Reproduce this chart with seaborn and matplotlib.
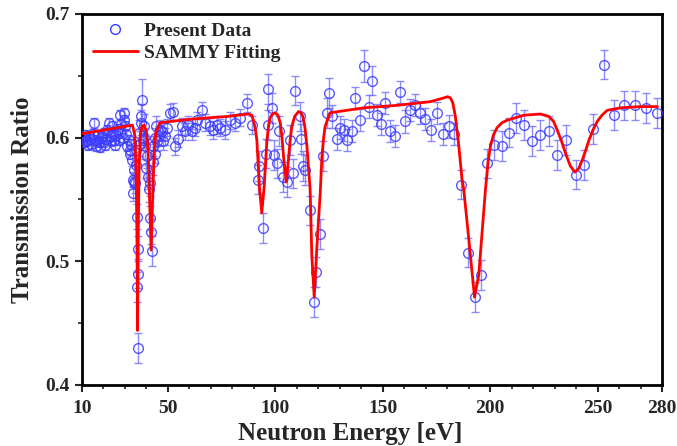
import matplotlib
matplotlib.use('Agg')
import matplotlib.pyplot as plt
from matplotlib.lines import Line2D
from matplotlib.ticker import MultipleLocator, FixedLocator
import seaborn as sns
import pandas as pd

# measured transmission points (energy in eV, ratio, error)
energy = [10.5, 11.0, 11.5, 12.0, 12.3, 12.8, 13.3, 13.9, 14.4, 15.0,
          15.4, 15.9, 16.4, 16.9, 17.4, 17.9, 18.4, 18.8, 19.3, 19.8,
          20.4, 20.9, 21.4, 21.9, 22.4, 22.9, 23.4, 24.0, 24.5, 25.0,
          25.5, 26.0, 26.6, 27.1, 27.5, 27.9, 28.4, 28.9, 29.4, 29.8,
          30.2, 30.7, 31.2, 31.8, 32.2, 32.5, 32.9, 33.3, 33.6, 33.9,
          34.1, 34.4, 34.8, 35.1, 35.4, 35.6, 35.8, 35.9, 36.0, 36.3,
          36.6, 37.0, 37.3, 37.6, 38.0, 38.4, 38.7, 39.1, 39.5, 39.9,
          40.3, 40.7, 41.1, 41.5, 41.9, 42.2, 42.5, 42.9, 43.3, 43.8,
          44.2, 44.6, 45.1, 45.7, 46.3, 47.1, 47.9, 48.7, 49.5, 51.0,
          52.3, 53.3, 54.9, 56.5, 58.0, 59.5, 61.1, 62.7, 63.4, 65.8,
          67.3, 69.6, 71.2, 72.8, 74.3, 76.6, 79.0, 81.3, 83.6, 86.7,
          89.1, 91.9, 92.6, 94.2, 95.7, 96.4, 96.8, 98.4, 99.6, 100.7,
          101.9, 103.8, 105.4, 106.9, 108.2, 109.3, 111.3, 112.1, 113.1, 113.9,
          116.2, 117.8, 119.0, 120.6, 122.2, 124.0, 124.8, 126.4, 128.7, 130.2,
          131.8, 133.3, 135.7, 137.2, 139.2, 141.1, 143.4, 145.0, 147.3, 149.2,
          151.2, 153.5, 155.9, 157.9, 160.5, 162.8, 165.2, 167.2, 169.8, 172.5,
          175.3, 178.1, 180.7, 183.3, 186.6, 189.5, 192.7, 195.8, 198.6, 201.7,
          205.6, 208.7, 212.1, 215.6, 219.5, 223.1, 227.3, 231.2, 235.4, 239.7,
          243.6, 248.0, 252.9, 257.6, 262.2, 267.2, 272.4, 277.5]
ratio = [0.600, 0.596, 0.602, 0.597, 0.598, 0.594, 0.601, 0.599, 0.595, 0.603,
         0.612, 0.598, 0.593, 0.597, 0.602, 0.596, 0.592, 0.600, 0.601, 0.596,
         0.604, 0.594, 0.599, 0.606, 0.612, 0.601, 0.597, 0.609, 0.603, 0.598,
         0.594, 0.602, 0.607, 0.598, 0.604, 0.618, 0.611, 0.600, 0.620, 0.614,
         0.609, 0.603, 0.593, 0.598, 0.590, 0.587, 0.595, 0.582, 0.566, 0.555,
         0.574, 0.564, 0.563, 0.590, 0.578, 0.536, 0.479, 0.430, 0.490, 0.510,
         0.604, 0.595, 0.612, 0.617, 0.630, 0.598, 0.609, 0.600, 0.593, 0.575,
         0.585, 0.568, 0.558, 0.563, 0.535, 0.524, 0.508, 0.580, 0.593, 0.587,
         0.600, 0.609, 0.597, 0.601, 0.606, 0.605, 0.597, 0.601, 0.608, 0.620,
         0.621, 0.593, 0.599, 0.609, 0.605, 0.610, 0.605, 0.608, 0.614, 0.622,
         0.612, 0.609, 0.606, 0.610, 0.608, 0.606, 0.614, 0.612, 0.616, 0.628,
         0.610, 0.566, 0.577, 0.527, 0.587, 0.610, 0.639, 0.624, 0.586, 0.579,
         0.605, 0.568, 0.564, 0.598, 0.571, 0.638, 0.617, 0.599, 0.577, 0.574,
         0.541, 0.467, 0.491, 0.522, 0.585, 0.620, 0.636, 0.617, 0.599, 0.608,
         0.606, 0.598, 0.605, 0.632, 0.614, 0.658, 0.625, 0.646, 0.618, 0.611,
         0.628, 0.605, 0.601, 0.637, 0.613, 0.622, 0.626, 0.620, 0.615, 0.606,
         0.620, 0.603, 0.609, 0.603, 0.562, 0.507, 0.471, 0.489, 0.579, 0.594,
         0.593, 0.604, 0.616, 0.610, 0.597, 0.602, 0.605, 0.586, 0.598, 0.570,
         0.578, 0.607, 0.659, 0.618, 0.626, 0.626, 0.624, 0.620]
error = [0.004, 0.004, 0.004, 0.004, 0.004, 0.004, 0.004, 0.004, 0.004, 0.004,
         0.004, 0.004, 0.004, 0.004, 0.004, 0.004, 0.004, 0.004, 0.004, 0.004,
         0.004, 0.004, 0.004, 0.004, 0.004, 0.004, 0.004, 0.004, 0.004, 0.004,
         0.004, 0.004, 0.004, 0.004, 0.004, 0.004, 0.004, 0.004, 0.004, 0.004,
         0.004, 0.004, 0.004, 0.004, 0.004, 0.004, 0.004, 0.005, 0.006, 0.006,
         0.006, 0.006, 0.008, 0.008, 0.010, 0.010, 0.012, 0.012, 0.012, 0.010,
         0.010, 0.010, 0.010, 0.010, 0.017, 0.008, 0.010, 0.008, 0.010, 0.008,
         0.010, 0.010, 0.010, 0.010, 0.010, 0.010, 0.012, 0.010, 0.008, 0.008,
         0.008, 0.008, 0.008, 0.008, 0.008, 0.007, 0.007, 0.007, 0.007, 0.007,
         0.007, 0.007, 0.007, 0.007, 0.007, 0.007, 0.007, 0.007, 0.007, 0.007,
         0.007, 0.007, 0.007, 0.007, 0.007, 0.007, 0.007, 0.007, 0.007, 0.007,
         0.007, 0.012, 0.012, 0.012, 0.012, 0.012, 0.012, 0.012, 0.012, 0.012,
         0.012, 0.012, 0.012, 0.012, 0.012, 0.012, 0.012, 0.012, 0.012, 0.012,
         0.012, 0.012, 0.012, 0.012, 0.012, 0.012, 0.012, 0.009, 0.009, 0.009,
         0.009, 0.009, 0.009, 0.009, 0.009, 0.013, 0.009, 0.012, 0.009, 0.009,
         0.009, 0.009, 0.009, 0.009, 0.009, 0.009, 0.009, 0.009, 0.009, 0.009,
         0.009, 0.009, 0.009, 0.009, 0.012, 0.012, 0.012, 0.012, 0.012, 0.012,
         0.012, 0.012, 0.012, 0.012, 0.012, 0.012, 0.012, 0.012, 0.012, 0.012,
         0.012, 0.012, 0.012, 0.012, 0.012, 0.012, 0.012, 0.012]

# SAMMY fit curve
fit_energy = [10.0, 20.0, 30.0, 33.5, 34.6, 35.2, 35.6, 35.9, 36.2, 36.6,
              37.2, 37.9, 38.9, 40.0, 40.8, 41.5, 42.2, 42.9, 43.6, 44.4,
              46.3, 61.9, 77.4, 87.5, 89.0, 89.8, 90.7, 91.4, 92.6, 93.7,
              94.8, 96.1, 96.9, 97.6, 98.7, 99.9, 101.2, 102.3, 103.1, 103.8,
              105.1, 106.1, 106.9, 107.7, 109.0, 110.8, 112.0, 112.8, 113.8, 114.7,
              116.2, 117.0, 118.1, 119.3, 120.1, 120.9, 121.7, 122.5, 123.2, 124.8,
              125.6, 141.1, 156.6, 172.2, 178.4, 180.2, 181.5, 182.6, 183.8, 185.4,
              186.9, 187.7, 190.2, 192.7, 194.7, 196.3, 197.8, 199.0, 200.1, 201.5,
              203.2, 205.5, 207.9, 215.6, 223.4, 227.3, 229.5, 231.2, 233.2, 235.1,
              237.3, 239.4, 241.2, 242.9, 244.5, 246.0, 247.8, 249.8, 252.0, 254.5,
              260.7, 270.0, 277.8]
fit_ratio = [0.603, 0.606, 0.609, 0.610, 0.602, 0.575, 0.520, 0.444, 0.520, 0.575,
             0.602, 0.609, 0.610, 0.605, 0.588, 0.550, 0.509, 0.550, 0.588, 0.604,
             0.612, 0.615, 0.617, 0.619, 0.618, 0.614, 0.607, 0.598, 0.560, 0.539,
             0.560, 0.598, 0.610, 0.616, 0.619, 0.620, 0.618, 0.612, 0.600, 0.585,
             0.564, 0.582, 0.598, 0.609, 0.617, 0.621, 0.620, 0.617, 0.608, 0.593,
             0.558, 0.504, 0.471, 0.510, 0.533, 0.555, 0.585, 0.600, 0.609, 0.617,
             0.620, 0.624, 0.626, 0.629, 0.632, 0.633, 0.632, 0.628, 0.617, 0.593,
             0.566, 0.558, 0.515, 0.471, 0.489, 0.525, 0.558, 0.580, 0.593, 0.602,
             0.608, 0.612, 0.614, 0.618, 0.619, 0.617, 0.613, 0.606, 0.597, 0.587,
             0.577, 0.572, 0.575, 0.582, 0.590, 0.598, 0.606, 0.613, 0.618, 0.622,
             0.624, 0.625, 0.625]

x_major = [10, 50, 100, 150, 200, 250, 280]
y_major = [0.4, 0.5, 0.6, 0.7]

sns.set_style('ticks')
plt.rcParams['font.family'] = ['Liberation Serif', 'DejaVu Serif']
plt.rcParams['font.weight'] = 'bold'

fig = plt.figure(figsize=(6.77, 4.46), dpi=100)
ax = fig.add_axes([0.121, 0.137, 0.857, 0.832])

blue = '#3c3cff'
ax.errorbar(energy, ratio, yerr=error, fmt='none', ecolor='#7070ff',
            elinewidth=1.0, capsize=3, capthick=1.0, alpha=0.8, zorder=2)
ax.plot(energy, ratio, 'o', mfc='none', mec=blue, ms=7, mew=1.0,
        alpha=0.85, zorder=3)

fit = pd.DataFrame({'E': fit_energy, 'T': fit_ratio})
sns.lineplot(data=fit, x='E', y='T', ax=ax, color='#ff0000', lw=2.0,
             sort=False, zorder=4)

ax.set_xlim(10, 280)
ax.set_ylim(0.4, 0.7)
ax.xaxis.set_major_locator(FixedLocator(x_major))
ax.xaxis.set_minor_locator(FixedLocator([v for v in range(20, 280, 10) if v not in x_major]))
ax.yaxis.set_major_locator(FixedLocator(y_major))
ax.yaxis.set_minor_locator(MultipleLocator(0.05))
ax.set_xticklabels([str(v) for v in x_major])
ax.set_yticklabels([f'{v:.1f}' for v in y_major])

ax.tick_params(which='major', direction='out', length=5, width=1.5,
               labelsize=14, top=False, right=False, pad=4)
ax.tick_params(axis='x', which='major', pad=6)
ax.tick_params(which='minor', direction='out', length=3, width=1.2,
               top=False, right=False)
for lab in ax.get_xticklabels() + ax.get_yticklabels():
    lab.set_fontweight('bold')
for side in ['left', 'bottom', 'top', 'right']:
    ax.spines[side].set_visible(True)
    ax.spines[side].set_linewidth(2.0)
    ax.spines[side].set_color('black')

ax.set_xlabel('Neutron Energy [eV]', fontsize=18, fontweight='bold')
ax.xaxis.set_label_coords(0.462, -0.1)
ax.set_ylabel('Transmission Ratio', fontsize=18, fontweight='bold', labelpad=8)

handles = [Line2D([], [], ls='none', marker='o', mfc='none', mec=blue, ms=7, mew=1.0),
           Line2D([], [], color='#ff0000', lw=2.0)]
ax.legend(handles, ['Present Data', 'SAMMY Fitting'], loc='upper left',
          bbox_to_anchor=(-0.011, 1.025), frameon=False, handlelength=2.3,
          handletextpad=0.3, labelspacing=0.25,
          prop={'family': 'Liberation Serif', 'weight': 'bold', 'size': 14})

fig.savefig('out.png', dpi=100)
